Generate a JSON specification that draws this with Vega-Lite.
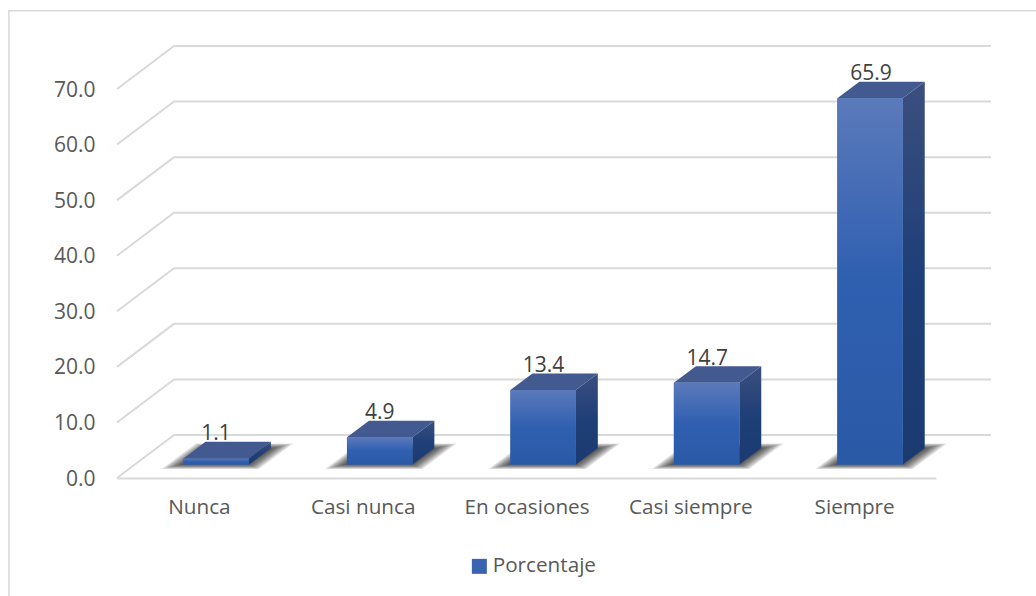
{
  "$schema": "https://vega.github.io/schema/vega-lite/v6.json",
  "width": 819,
  "height": 389,
  "padding": {"left": 117, "top": 89, "right": 100, "bottom": 118},
  "autosize": "none",
  "background": "white",
  "config": {"view": {"stroke": null}, "font": "Open Sans"},
  "datasets": {
    "respuestas": [
      {"respuesta": "Nunca", "orden": 0, "porcentaje": 1.1},
      {"respuesta": "Casi nunca", "orden": 1, "porcentaje": 4.9},
      {"respuesta": "En ocasiones", "orden": 2, "porcentaje": 13.4},
      {"respuesta": "Casi siempre", "orden": 3, "porcentaje": 14.7},
      {"respuesta": "Siempre", "orden": 4, "porcentaje": 65.9}
    ],
    "marcas": [{"v": 0}, {"v": 10}, {"v": 20}, {"v": 30}, {"v": 40}, {"v": 50}, {"v": 60}, {"v": 70}]
  },
  "resolve": {"scale": {"x": "independent"}, "axis": {"x": "independent"}},
  "layer": [
    {
      "resolve": {"scale": {"x": "shared"}},
      "layer": [
        {
          "description": "chart frame",
          "data": {"values": [{"a": 0}]},
          "mark": {"type": "rect", "fill": null, "stroke": "#d9d9d9", "strokeWidth": 1.5},
          "encoding": {
            "x": {"datum": -0.66, "type": "quantitative", "scale": {"domain": [0, 5], "nice": false, "zero": false}, "axis": null},
            "x2": {"datum": 6.5},
            "y": {"datum": 84.1, "type": "quantitative", "scale": {"domain": [0, 70], "nice": false}},
            "y2": {"datum": -30}
          }
        },
        {
          "description": "gridlines bent along the floor and back wall",
          "data": {"name": "marcas"},
          "transform": [
            {"calculate": "[0,1,2]", "as": "vertice"},
            {"flatten": ["vertice"]},
            {"calculate": "[0, 0.348, 5.336][datum.vertice]", "as": "gx"},
            {"calculate": "datum.v + (datum.vertice > 0 ? 7.74 : 0)", "as": "gy"}
          ],
          "mark": {"type": "line", "stroke": "#d9d9d9", "strokeWidth": 2},
          "encoding": {
            "x": {"field": "gx", "type": "quantitative", "axis": null},
            "y": {"field": "gy", "type": "quantitative"},
            "detail": {"field": "v"},
            "order": {"field": "vertice"}
          }
        },
        {
          "description": "soft floor shadow built from stacked translucent footprints",
          "data": {"name": "respuestas"},
          "transform": [
            {"calculate": "[0,0.125,0.25,0.375,0.5,0.625,0.75,0.875,1]", "as": "t"},
            {"flatten": ["t"]},
            {"calculate": "[0,1,2,3]", "as": "vertice"},
            {"flatten": ["vertice"]},
            {"calculate": "0.406 + datum.orden * 0.9979", "as": "x0"},
            {"calculate": "datum.x0 - (2 + 20 * datum.t) / 163.8", "as": "bl"},
            {"calculate": "datum.x0 + 0.3993 + (10 * datum.t) / 163.8", "as": "br"},
            {"calculate": "1.4 * (16.5 + 8 * datum.t) / 163.8", "as": "d"},
            {"calculate": "2.43 - 4.5 * datum.t / 5.557", "as": "yb"},
            {"calculate": "2.43 + (16 + 5 * datum.t) / 5.557", "as": "yt"},
            {"calculate": "[datum.bl, datum.bl + datum.d, datum.br, datum.br + datum.d][datum.vertice]", "as": "sx"},
            {"calculate": "datum.vertice == 3 ? datum.yt : datum.yb", "as": "s1"},
            {"calculate": "datum.vertice == 0 ? datum.yb : datum.yt", "as": "s2"}
          ],
          "mark": {"type": "area", "fill": "#000000", "opacity": 0.11},
          "encoding": {
            "x": {"field": "sx", "type": "quantitative", "axis": null},
            "y": {"field": "s1", "type": "quantitative", "stack": null},
            "y2": {"field": "s2"},
            "detail": [{"field": "respuesta"}, {"field": "t"}]
          }
        },
        {
          "description": "right side face of each bar",
          "data": {"name": "respuestas"},
          "transform": [
            {"calculate": "[0,1,2,3]", "as": "vertice"},
            {"flatten": ["vertice"]},
            {"calculate": "0.406 + datum.orden * 0.9979 + 0.3993 + (datum.vertice == 1 || datum.vertice == 2 ? 0.1343 : 0)", "as": "sx"},
            {"calculate": "(datum.vertice < 2 ? 2.43 : datum.porcentaje + 2.43) + (datum.vertice == 1 || datum.vertice == 2 ? 2.987 : 0)", "as": "sy"}
          ],
          "mark": {
            "type": "line",
            "strokeWidth": 0,
            "fill": {"gradient": "linear", "x1": 0, "y1": 0, "x2": 0, "y2": 1, "stops": [{"offset": 0, "color": "#3b4f7e"}, {"offset": 0.5, "color": "#1f3f78"}, {"offset": 1, "color": "#1a3a70"}]}
          },
          "encoding": {
            "x": {"field": "sx", "type": "quantitative", "axis": null},
            "y": {"field": "sy", "type": "quantitative"},
            "detail": {"field": "respuesta"},
            "order": {"field": "vertice"}
          }
        },
        {
          "description": "top face of each bar",
          "data": {"name": "respuestas"},
          "transform": [
            {"calculate": "[0,1,2,3]", "as": "vertice"},
            {"flatten": ["vertice"]},
            {"calculate": "0.406 + datum.orden * 0.9979", "as": "x0"},
            {"calculate": "[datum.x0, datum.x0 + 0.1343, datum.x0 + 0.5336, datum.x0 + 0.3993][datum.vertice]", "as": "sx"},
            {"calculate": "datum.porcentaje + 2.43 + (datum.vertice == 1 || datum.vertice == 2 ? 2.987 : 0)", "as": "sy"}
          ],
          "mark": {"type": "line", "fill": "#425a8f", "strokeWidth": 0},
          "encoding": {
            "x": {"field": "sx", "type": "quantitative", "axis": null},
            "y": {"field": "sy", "type": "quantitative"},
            "detail": {"field": "respuesta"},
            "order": {"field": "vertice"}
          }
        },
        {
          "description": "front face base colour, carries the legend",
          "data": {"name": "respuestas"},
          "transform": [
            {"calculate": "0.406 + datum.orden * 0.9979", "as": "x0"},
            {"calculate": "datum.x0 + 0.3993", "as": "x1"},
            {"calculate": "datum.porcentaje + 2.43", "as": "techo"},
            {"calculate": "2.43", "as": "base"},
            {"calculate": "'Porcentaje'", "as": "serie"}
          ],
          "mark": {"type": "rect"},
          "encoding": {
            "x": {"field": "x0", "type": "quantitative", "axis": null},
            "x2": {"field": "x1"},
            "y": {"field": "techo", "type": "quantitative"},
            "y2": {"field": "base"},
            "color": {
              "field": "serie",
              "type": "nominal",
              "scale": {"range": ["#3a64b0"]},
              "legend": {
                "title": null, "orient": "none", "legendX": 352, "legendY": 467, "symbolType": "square", "symbolSize": 225, "symbolStrokeWidth": 0,
                "labelFontSize": 20.7, "labelColor": "#595959", "labelFont": "Open Sans", "labelOffset": 3
              }
            }
          }
        },
        {
          "description": "front face shading",
          "data": {"name": "respuestas"},
          "transform": [
            {"calculate": "0.406 + datum.orden * 0.9979", "as": "x0"},
            {"calculate": "datum.x0 + 0.3993", "as": "x1"},
            {"calculate": "datum.porcentaje + 2.43", "as": "techo"},
            {"calculate": "2.43", "as": "base"}
          ],
          "mark": {
            "type": "rect",
            "fill": {"gradient": "linear", "x1": 0, "y1": 0, "x2": 0, "y2": 1, "stops": [{"offset": 0, "color": "#5b7abb"}, {"offset": 0.5, "color": "#2f5fb0"}, {"offset": 1, "color": "#2a5aa6"}]}
          },
          "encoding": {
            "x": {"field": "x0", "type": "quantitative", "axis": null},
            "x2": {"field": "x1"},
            "y": {"field": "techo", "type": "quantitative"},
            "y2": {"field": "base"}
          }
        }
      ]
    },
    {
      "description": "value labels and both axes",
      "data": {"name": "respuestas"},
      "mark": {"type": "text", "fontSize": 21, "color": "#404040", "dy": -37.5, "dx": 17, "baseline": "middle", "font": "Open Sans"},
      "encoding": {
        "x": {
          "field": "respuesta",
          "type": "nominal",
          "sort": {"field": "orden"},
          "scale": {"paddingInner": 0, "paddingOuter": 0},
          "axis": {"title": null, "labelAngle": 0, "ticks": false, "grid": false, "domainColor": "#d9d9d9", "domainWidth": 2, "labelFontSize": 20.7, "labelColor": "#595959", "labelPadding": 19, "labelFont": "Open Sans"}
        },
        "y": {"field": "porcentaje", "type": "quantitative", "axis": {"values": [0, 10, 20, 30, 40, 50, 60, 70], "format": ".1f", "title": null, "domain": false, "ticks": false, "grid": false, "labelFontSize": 21, "labelColor": "#595959", "labelPadding": 22, "labelOffset": 1, "labelFont": "Open Sans"}},
        "text": {"field": "porcentaje", "type": "quantitative", "format": ".1f"}
      }
    }
  ]
}
